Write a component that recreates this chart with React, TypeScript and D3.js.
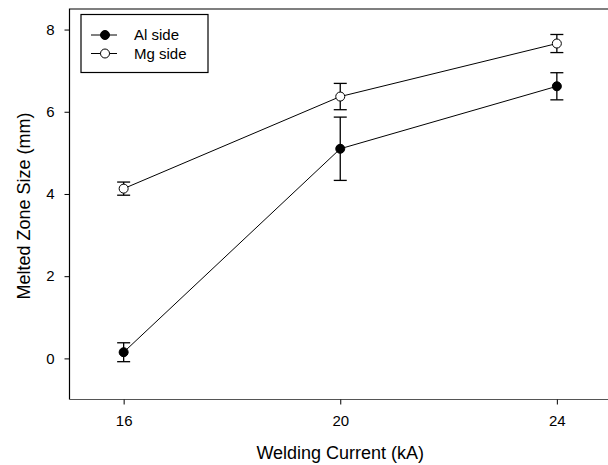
import React, { useEffect, useRef } from 'react';
import * as d3 from 'd3';

const currents = [16, 20, 24];
const alMeans = [0.15, 5.1, 6.62];
const alErrors = [0.23, 0.77, 0.33];
const mgMeans = [4.13, 6.37, 7.66];
const mgErrors = [0.16, 0.32, 0.22];
const xTicks = [16, 20, 24];
const yTicks = [0, 2, 4, 6, 8];

interface Series {
  name: string;
  means: number[];
  errors: number[];
  fill: string;
}

const seriesList: Series[] = [
  { name: 'Al side', means: alMeans, errors: alErrors, fill: '#000' },
  { name: 'Mg side', means: mgMeans, errors: mgErrors, fill: '#fff' },
];

const width = 608;
const height = 465;
const font = '"Liberation Sans", Arial, sans-serif';

const App: React.FC = () => {
  const svgRef = useRef<SVGSVGElement>(null);

  useEffect(() => {
    if (!svgRef.current) return;
    const svg = d3.select(svgRef.current);
    svg.selectAll('*').remove();

    const left = 69.5;
    const right = 611;
    const top = 9;
    const bottom = 399.5;

    const x = d3.scaleLinear().domain([15, 25]).range([left, right]);
    const y = d3.scaleLinear().domain([-1, 8.5]).range([bottom, top]);

    // frame: left, top, bottom
    svg.append('path')
      .attr('d', `M${left},${bottom}V${top}H${right}`)
      .attr('fill', 'none')
      .attr('stroke', '#000')
      .attr('stroke-width', 1.2);
    svg.append('line')
      .attr('x1', left).attr('x2', right)
      .attr('y1', bottom).attr('y2', bottom)
      .attr('stroke', '#555')
      .attr('stroke-width', 1.2);

    // Axes
    const xAxis = svg.append('g')
      .attr('transform', `translate(0,${bottom})`)
      .call(d3.axisBottom(x).tickValues(xTicks).tickSize(5).tickPadding(11).tickFormat(d3.format('d')));
    xAxis.select('.domain').remove();

    const yAxis = svg.append('g')
      .attr('transform', `translate(${left},0)`)
      .call(d3.axisLeft(y).tickValues(yTicks).tickSize(5).tickPadding(10).tickFormat(d3.format('d')));
    yAxis.select('.domain').remove();

    svg.selectAll('.tick text')
      .attr('font-family', font)
      .attr('font-size', 15)
      .attr('fill', '#000');
    svg.selectAll('.tick line').attr('stroke', '#000');

    const line = d3.line<number>()
      .x((_, i) => x(currents[i]))
      .y(d => y(d));

    seriesList.forEach(s => {
      const g = svg.append('g');
      g.append('path')
        .datum(s.means)
        .attr('fill', 'none')
        .attr('stroke', '#000')
        .attr('stroke-width', 1)
        .attr('d', line);

      // error bars
      s.means.forEach((m, i) => {
        const cx = x(currents[i]);
        const y0 = y(m - s.errors[i]);
        const y1 = y(m + s.errors[i]);
        g.append('line')
          .attr('x1', cx).attr('x2', cx)
          .attr('y1', y0).attr('y2', y1)
          .attr('stroke', '#000').attr('stroke-width', 1.3);
        [y0, y1].forEach(yy => {
          g.append('line')
            .attr('x1', cx - 6.5).attr('x2', cx + 6.5)
            .attr('y1', yy).attr('y2', yy)
            .attr('stroke', '#000').attr('stroke-width', 1.3);
        });
      });

      g.selectAll('circle')
        .data(s.means)
        .enter()
        .append('circle')
        .attr('cx', (_, i) => x(currents[i]))
        .attr('cy', d => y(d))
        .attr('r', 4.5)
        .attr('fill', s.fill)
        .attr('stroke', '#000')
        .attr('stroke-width', 1);
    });

    // Legend
    const lg = svg.append('g');
    lg.append('rect')
      .attr('x', 81).attr('y', 14.5)
      .attr('width', 127).attr('height', 58)
      .attr('fill', '#fff')
      .attr('stroke', '#000')
      .attr('stroke-width', 1.2);
    seriesList.forEach((s, i) => {
      const ly = 35 + i * 18.5;
      lg.append('line')
        .attr('x1', 91).attr('x2', 117)
        .attr('y1', ly).attr('y2', ly)
        .attr('stroke', '#000');
      lg.append('circle')
        .attr('cx', 105).attr('cy', ly).attr('r', 4.5)
        .attr('fill', s.fill).attr('stroke', '#000');
      lg.append('text')
        .attr('x', 134).attr('y', ly)
        .attr('dy', '0.35em')
        .attr('font-family', font)
        .attr('font-size', 15)
        .text(s.name);
    });

    // Axis titles
    svg.append('text')
      .attr('x', (left + right) / 2)
      .attr('y', 453)
      .attr('dy', '0.35em')
      .attr('text-anchor', 'middle')
      .attr('font-family', font)
      .attr('font-size', 18)
      .text('Welding Current (kA)');

    svg.append('text')
      .attr('transform', `translate(24,206) rotate(-90)`)
      .attr('dy', '0.35em')
      .attr('text-anchor', 'middle')
      .attr('font-family', font)
      .attr('font-size', 18)
      .text('Melted Zone Size (mm)');
  }, []);

  return (
    <svg
      ref={svgRef}
      width={width}
      height={height}
      style={{ position: 'absolute', left: 0, top: 0, background: '#fff' }}
    />
  );
};

export default App;
